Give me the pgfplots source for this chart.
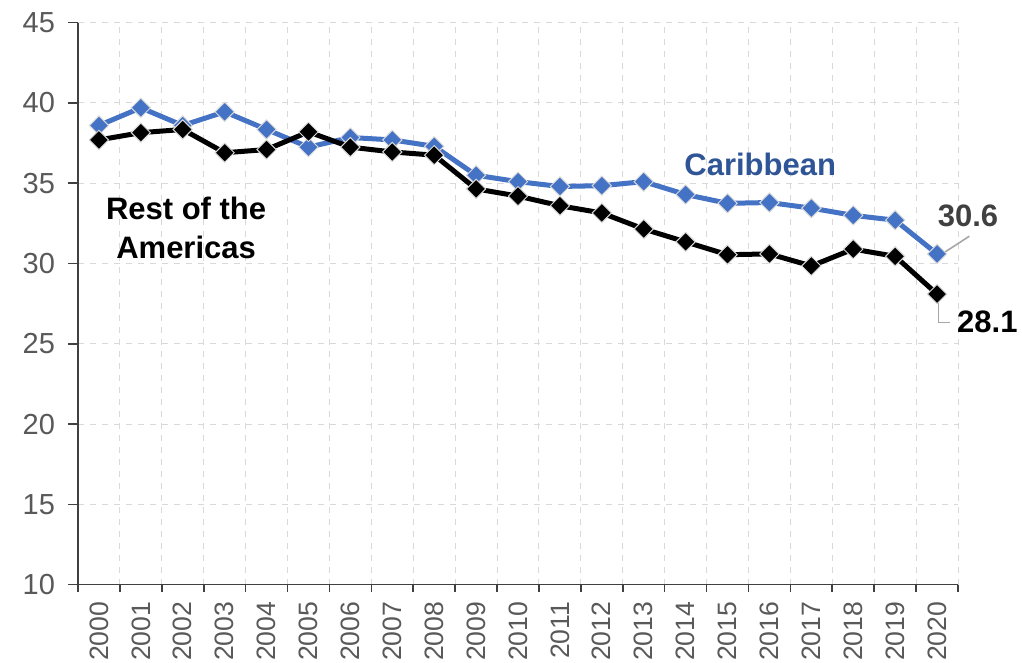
\documentclass[border=0pt]{standalone}
\usepackage{pgfplots}
\pgfplotsset{compat=1.18}
\usepackage{fontspec}
\setmainfont{Liberation Sans}
\definecolor{carib}{HTML}{4472C4}
\definecolor{caribtext}{HTML}{2F5597}
\definecolor{tickgray}{HTML}{595959}
\definecolor{gridgray}{HTML}{D9D9D9}
\definecolor{axisgray}{HTML}{404040}
\definecolor{labgray}{HTML}{404040}
\definecolor{leader}{HTML}{A6A6A6}
\pgfplotstableread{
x carib rest
0 38.6 37.7
1 39.7 38.15
2 38.6 38.35
3 39.45 36.9
4 38.35 37.1
5 37.25 38.2
6 37.85 37.25
7 37.7 36.95
8 37.3 36.75
9 35.5 34.65
10 35.1 34.2
11 34.8 33.6
12 34.85 33.15
13 35.1 32.15
14 34.3 31.35
15 33.75 30.55
16 33.8 30.6
17 33.45 29.85
18 33.0 30.9
19 32.7 30.45
20 30.6 28.1
}\datatable
\begin{document}
\begin{tikzpicture}
\begin{axis}[name=ax,
  width=440pt, height=281pt, scale only axis,
  xmin=-0.5, xmax=20.5, ymin=10, ymax=45,
  ytick={10,15,...,45},
  xtick={0,...,20},
  xticklabels={2000,2001,2002,2003,2004,2005,2006,2007,2008,2009,2010,2011,2012,2013,2014,2015,2016,2017,2018,2019,2020},
  minor xtick={-0.5,0.5,...,20.5},
  xminorgrids=true, ymajorgrids=true, xmajorgrids=false,
  major grid style={gridgray, dashed, line width=0.5pt},
  minor grid style={gridgray, dashed, line width=0.5pt},
  axis x line*=bottom, axis y line*=left,
  axis line style={axisgray, line width=0.8pt, -},
  tick align=outside,
  major x tick style={draw=none},
  minor x tick style={axisgray, line width=0.8pt},
  major y tick style={axisgray, line width=0.8pt},
  major tick length=5pt, minor tick length=3.5pt,
  /pgf/number format/assume math mode=true,
  yticklabel style={font=\fontsize{14.5}{16}\selectfont, text=tickgray, xshift=-3pt},
  xticklabel style={font=\fontsize{13.3}{15}\selectfont, text=tickgray, rotate=90, anchor=east},
  xticklabel shift=0pt,
  clip=false,
]
\addplot[carib, line width=2.5pt, mark=square*, mark size=3.4pt,
  mark options={rotate=45, fill=carib, draw=gridgray, line width=0.5pt}]
  table[x=x, y=carib] {\datatable};
\addplot[black, line width=2.5pt, mark=square*, mark size=3.4pt,
  mark options={rotate=45, fill=black, draw=gridgray, line width=0.5pt}]
  table[x=x, y=rest] {\datatable};
\node[font=\fontsize{15.5}{18}\selectfont\bfseries, text=caribtext] at (axis cs:15.78,36.2) {Caribbean};
\node[font=\fontsize{15.5}{19.8}\selectfont\bfseries, text=black, align=center] at (axis cs:2.08,32.22) {Rest of the\\Americas};
\draw[leader, line width=0.8pt] (axis cs:20.12,30.6) -- (axis cs:20.77,31.7);
\node[font=\fontsize{15.5}{18}\selectfont\bfseries, text=labgray] at (axis cs:20.74,33.0) {30.6};
\draw[leader, line width=0.8pt] (axis cs:20.03,27.9) -- (axis cs:20.03,26.33) -- (axis cs:20.31,26.33);
\node[font=\fontsize{15.5}{18}\selectfont\bfseries, text=black] at (axis cs:21.2,26.35) {28.1};
\end{axis}
\pgfresetboundingbox
\path ([xshift=-39pt,yshift=-39.1pt]ax.south west) rectangle ([xshift=32pt,yshift=11.35pt]ax.north east);
\end{tikzpicture}
\end{document}
